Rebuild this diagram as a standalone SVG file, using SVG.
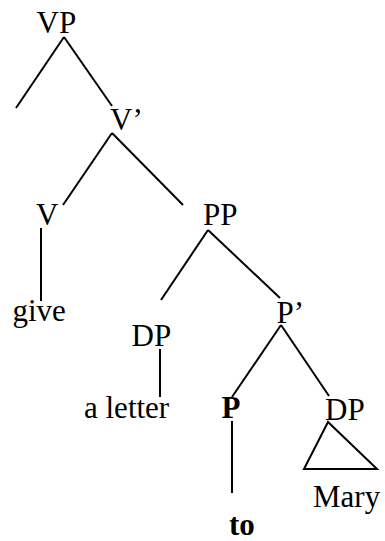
<svg xmlns="http://www.w3.org/2000/svg" width="385" height="541" viewBox="0 0 385 541">
<style>
text{font-family:"Liberation Serif","Times New Roman",serif;font-size:31px;fill:#000}
.b{font-weight:bold}
line,polygon{stroke:#000;stroke-width:2;fill:none}
</style>
<rect width="385" height="541" fill="#fff"/>
<g id="connectors">
<line x1="64" y1="37" x2="16" y2="108"/>
<line x1="64" y1="37" x2="112" y2="106"/>
<line x1="112" y1="133" x2="63" y2="205"/>
<line x1="112" y1="133" x2="183" y2="205"/>
<line x1="41" y1="228" x2="41" y2="301"/>
<line x1="208" y1="230" x2="161" y2="300"/>
<line x1="208" y1="230" x2="280" y2="298"/>
<line x1="160" y1="349" x2="160" y2="397"/>
<line x1="281" y1="325" x2="232" y2="397"/>
<line x1="281" y1="325" x2="329" y2="396"/>
<line x1="232" y1="421" x2="232" y2="493"/>
<polygon points="328,422 304,469 377,469"/>
</g>
<g id="VP"><text x="36.5" y="33">VP</text></g>
<g id="Vbar"><text x="110" y="130">V’</text></g>
<g id="V"><text x="36" y="225">V</text></g>
<g id="PP"><text x="203" y="225">PP</text></g>
<g id="give"><text x="12.5" y="321">give</text></g>
<g id="DP1"><text x="131.5" y="346">DP</text></g>
<g id="Pbar"><text x="276.5" y="322.5">P’</text></g>
<g id="aletter"><text x="84" y="418">a letter</text></g>
<g id="P"><text class="b" x="221.5" y="418">P</text></g>
<g id="DP2"><text x="325" y="419.5">DP</text></g>
<g id="Mary"><text x="313" y="507">Mary</text></g>
<g id="to"><text class="b" x="229" y="535">to</text></g>
</svg>
